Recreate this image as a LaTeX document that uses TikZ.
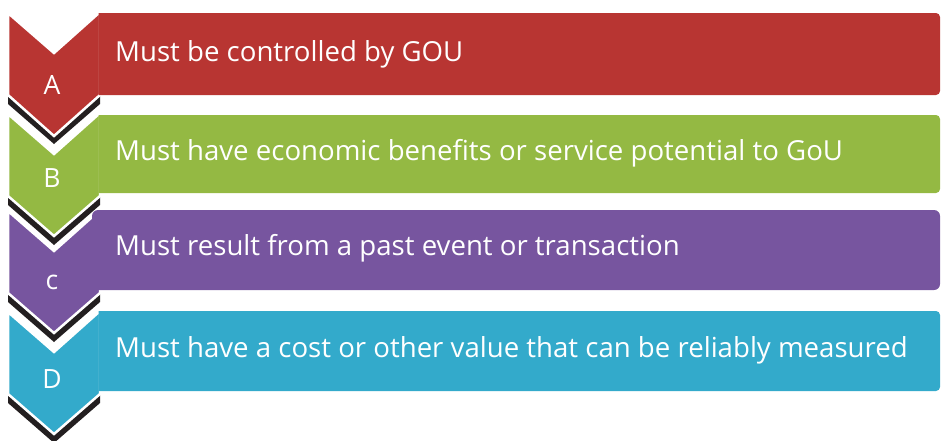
\documentclass[tikz,border=0pt]{standalone}
\usepackage{fontspec}
\setmainfont{Open Sans}
\definecolor{cA}{HTML}{B83532}
\definecolor{cB}{HTML}{94B943}
\definecolor{cC}{HTML}{77559F}
\definecolor{cD}{HTML}{33AACB}
\definecolor{shad}{HTML}{231F20}
\tikzset{
  chev/.style={fill=#1, draw=white, line width=2.5pt, line join=miter},
  chevshadow/.style={fill=shad},
  bar/.style={fill=#1},
  bartext/.style={anchor=base west, inner sep=0pt, text=white, font=\fontsize{27.6}{32}\selectfont},
  lbl/.style={anchor=base, inner sep=0pt, text=white, font=\fontsize{26.5}{30}\selectfont},
}
\begin{document}
\begin{tikzpicture}[x=1pt,y=-1pt]
\useasboundingbox (0,0) rectangle (941,440);
% A
\fill[chevshadow] (8,22) -- (54,62) -- (100,22) -- (100,104) -- (54,144) -- (8,104) -- cycle;
\path[chev=cA] (8,13) -- (54,53) -- (100,12) -- (100,95) -- (54,136) -- (8,95) -- cycle;
\path[bar=cA] (98.5,13) {[rounded corners=4pt] -- (940,13) -- (940,95)} -- (98.5,95) -- cycle;
% B
\fill[chevshadow] (8,123) -- (54,163) -- (100,123) -- (100,205) -- (54,245) -- (8,205) -- cycle;
\path[chev=cB] (8,114) -- (54,154) -- (100,113) -- (100,196) -- (54,236) -- (8,196) -- cycle;
\path[bar=cB] (98.5,115) {[rounded corners=4pt] -- (940,115) -- (940,193)} -- (98.5,193) -- cycle;
% C
\fill[chevshadow] (8,220) -- (54,260) -- (100,220) -- (100,302) -- (54,342) -- (8,302) -- cycle;
\path[chev=cC] (8,211) -- (54,251) -- (100,210) -- (100,293) -- (54,333) -- (8,293) -- cycle;
\path[bar=cC, rounded corners=6pt] (92,210) rectangle (940,290);
% D
\fill[chevshadow] (8,321) -- (54,361) -- (100,321) -- (100,403) -- (54,443) -- (8,403) -- cycle;
\path[chev=cD] (8,312) -- (54,352) -- (100,311) -- (100,394) -- (54,434) -- (8,394) -- cycle;
\path[bar=cD] (98.5,311) {[rounded corners=4pt] -- (940,311) -- (940,391)} -- (98.5,391) -- cycle;
% texts
\node[bartext] (tA) at (115,61) {Must be controlled by GOU};
\node[bartext] (tB) at (115,160) {Must have economic benefits or service potential to GoU};
\node[bartext] (tC) at (115,255) {Must result from a past event or transaction};
\node[bartext] (tD) at (115,357) {Must have a cost or other value that can be reliably measured};
\node[lbl] (lA) at (52,94) {A};
\node[lbl] (lB) at (52,187) {B};
\node[lbl] (lC) at (52,289) {c};
\node[lbl] (lD) at (52,388) {D};
\end{tikzpicture}
\end{document}
